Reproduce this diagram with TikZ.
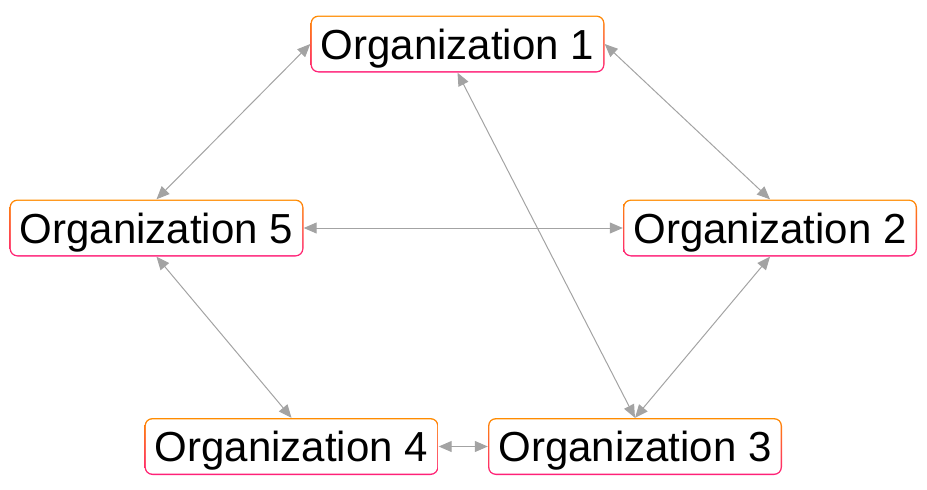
\documentclass[tikz,border=0pt]{standalone}
\usepackage{fontspec}
\setmainfont{Liberation Sans}
\usetikzlibrary{arrows.meta}
\definecolor{orgorange}{HTML}{FF8C00}
\definecolor{orgpink}{HTML}{FF1F7A}
\definecolor{linkgray}{HTML}{A3A3A3}
\begin{document}
\begin{tikzpicture}[x=1pt,y=-1pt,
 org/.style={shape=rectangle, rounded corners=8pt, minimum width=294pt, minimum height=57pt, inner sep=0pt,
   text depth=0pt,
   top color=orgorange, bottom color=orgpink,
   font=\fontsize{42}{42}\selectfont,
   path picture={\fill[white, rounded corners=6.6pt] ([shift={(1.4pt,-1.4pt)}]path picture bounding box.north west) rectangle ([shift={(-1.4pt,1.4pt)}]path picture bounding box.south east);}},
 link/.style={draw=linkgray, line width=1pt, {Triangle[length=13pt,width=11pt]}-{Triangle[length=13pt,width=11pt]}}]
\useasboundingbox (0,0) rectangle (927,490);
\node[org] (o1) at (457.5,44) {Organization 1};
\node[org] (o5) at (156.5,228) {Organization 5};
\node[org] (o2) at (770,228) {Organization 2};
\node[org] (o4) at (291.5,446.5) {Organization 4};
\node[org] (o3) at (635,446.5) {Organization 3};
\draw[link] (o1.west) -- (o5.north);
\draw[link] (o1.east) -- (o2.north);
\draw[link] (o1.south) -- (o3.north);
\draw[link] (o5.east) -- (o2.west);
\draw[link] (o5.south) -- (o4.north);
\draw[link] (o2.south) -- (o3.north);
\draw[link] (o4.east) -- (o3.west);
\end{tikzpicture}
\end{document}
